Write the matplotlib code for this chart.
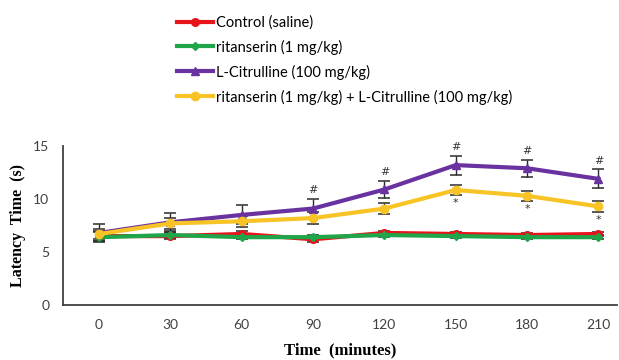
import matplotlib
matplotlib.use("Agg")
import matplotlib.pyplot as plt
import numpy as np

# ------------------------------
# Data
# ------------------------------
times = ["0", "30", "60", "90", "120", "150", "180", "210"]

control = [6.5, 6.5, 6.7, 6.2, 6.8, 6.7, 6.6, 6.7]
control_err = [0.5, 0.3, 0.3, 0.3, 0.2, 0.2, 0.2, 0.2]

ritanserin = [6.4, 6.6, 6.4, 6.4, 6.6, 6.5, 6.4, 6.4]
ritanserin_err = [0.5, 0.3, 0.2, 0.2, 0.2, 0.2, 0.2, 0.2]

citrulline = [6.8, 7.8, 8.5, 9.1, 10.9, 13.2, 12.9, 11.9]
citrulline_err = [0.8, 0.85, 0.9, 0.9, 0.8, 0.9, 0.8, 0.9]

combo = [6.7, 7.7, 7.9, 8.2, 9.1, 10.85, 10.3, 9.3]
combo_err = [0.5, 0.5, 0.5, 0.55, 0.55, 0.45, 0.45, 0.5]

hash_marks = [3, 4, 5, 6, 7]      # '#' above L-Citrulline
star_marks = [5, 6, 7]            # '*' below combination

labels = ["Control (saline)", "ritanserin (1 mg/kg)",
          "L-Citrulline (100 mg/kg)",
          "ritanserin (1 mg/kg) + L-Citrulline (100 mg/kg)"]
colors = ["#e8141b", "#1fa64a", "#6a32a0", "#f7c325"]
markers = ["o", "D", "^", "o"]
msizes = [5.5, 4, 6, 6]

# ------------------------------
# Plot
# ------------------------------
fig = plt.figure(figsize=(6.19, 3.60), dpi=100)
ax = fig.add_axes([0.1018, 0.1528, 0.895, 0.4416])

x = np.arange(len(times))
series = [(control, control_err), (ritanserin, ritanserin_err),
          (citrulline, citrulline_err), (combo, combo_err)]
handles = []
for (vals, errs), c, m, ms, lab in zip(series, colors, markers, msizes, labels):
    ax.errorbar(x, vals, yerr=errs, fmt="none", ecolor="#2b2b2b",
                elinewidth=1, capsize=4.5, capthick=1.1, zorder=2)
    h, = ax.plot(x, vals, color=c, lw=3, marker=m, ms=ms, mec=c,
                 label=lab, zorder=3)
    handles.append(h)

for i in hash_marks:
    ax.text(i, citrulline[i] + citrulline_err[i] + 0.35, "#",
            ha="center", va="bottom", fontsize=8, color="#333333",
            family="DejaVu Sans")
for i in star_marks:
    ax.text(i, combo[i] - combo_err[i] - 0.3, "*",
            ha="center", va="top", fontsize=8, color="#333333")

ax.set_xlim(-0.506, 7.26)
ax.set_ylim(0, 15)
ax.set_xticks(x)
ax.set_xticklabels(times)
ax.set_yticks([0, 5, 10, 15])
ax.tick_params(length=0, labelsize=10, pad=10, colors="#404040")
for lab in ax.get_xticklabels() + ax.get_yticklabels():
    lab.set_family("Lato")
ax.spines["top"].set_visible(False)
ax.spines["right"].set_visible(False)
ax.spines["left"].set_color("#404040")
ax.spines["bottom"].set_color("#404040")
ax.spines["left"].set_linewidth(1.3)
ax.spines["bottom"].set_linewidth(1.3)

ax.set_xlabel("Time  (minutes)", family="Liberation Serif", weight="bold",
              fontsize=12, labelpad=8)
ax.set_ylabel("Latency  Time  (s)", family="Liberation Serif", weight="bold",
              fontsize=11.5, labelpad=5)

leg = fig.legend(handles=handles, loc="upper left",
                 bbox_to_anchor=(0.267, 0.99), frameon=False,
                 prop={"family": "Lato", "size": 10.5},
                 handlelength=2.5, handletextpad=0.2, labelspacing=0.68,
                 borderpad=0.3)

fig.savefig("out.png", dpi=100)
